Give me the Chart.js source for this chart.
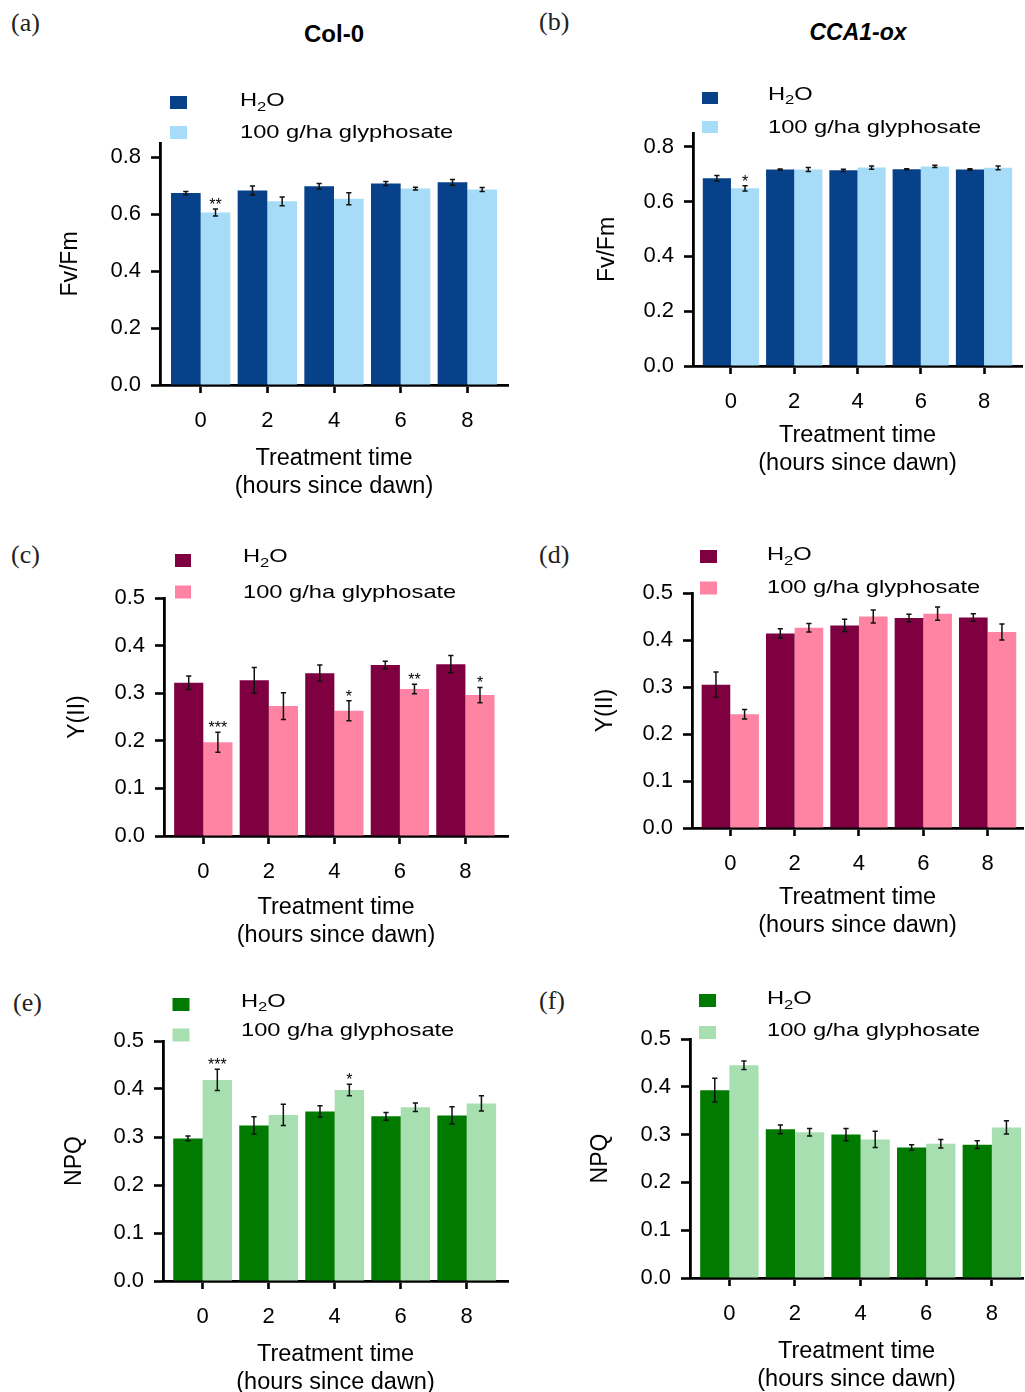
<!DOCTYPE html>
<html>
<head>
<meta charset="utf-8">
<script src="https://cdn.jsdelivr.net/npm/chart.js@4.4.1/dist/chart.umd.min.js"></script>
<style>
  html, body { margin: 0; padding: 0; background: #fff; }
  #page { position: relative; width: 1025px; height: 1392px; overflow: hidden; }
  #page canvas { position: absolute; }
  .tag { position: absolute; font-family: "Liberation Serif", "DejaVu Serif", serif; font-size: 26px; line-height: 1; color: #222; }
  .head { position: absolute; font-family: "Liberation Sans", Arial, sans-serif; font-weight: bold; font-size: 24px; line-height: 1; transform: translateX(-50%); white-space: nowrap; }
</style>
</head>
<body>
<div id="page">
  <div class="tag" style="left:11px; top:10px;">(a)</div>
  <div class="tag" style="left:539px; top:9px;">(b)</div>
  <div class="tag" style="left:11px; top:542px;">(c)</div>
  <div class="tag" style="left:539px; top:542px;">(d)</div>
  <div class="tag" style="left:13px; top:990px;">(e)</div>
  <div class="tag" style="left:539px; top:988px;">(f)</div>
  <div class="head" style="left:334px; top:22px;">Col-0</div>
  <div class="head" style="left:858px; top:21px; font-size:23px;"><i>CCA1-ox</i></div>

  <canvas id="chartA" width="512" height="510" style="left:0; top:0;"></canvas>
  <canvas id="chartB" width="513" height="510" style="left:512px; top:0;"></canvas>
  <canvas id="chartC" width="512" height="452" style="left:0; top:510px;"></canvas>
  <canvas id="chartD" width="513" height="452" style="left:512px; top:510px;"></canvas>
  <canvas id="chartE" width="512" height="430" style="left:0; top:962px;"></canvas>
  <canvas id="chartF" width="513" height="430" style="left:512px; top:962px;"></canvas>
</div>

<script>
// ===== Data =====
const hours = [0, 2, 4, 6, 8];
const seriesNames = ['H2O', '100 g/ha glyphosate'];
const xTitle = ['Treatment time', '(hours since dawn)'];
const fvfmTicks = [0, 0.2, 0.4, 0.6, 0.8];
const lowTicks = [0, 0.1, 0.2, 0.3, 0.4, 0.5];

// (a) Fv/Fm, Col-0
const fvfmColWater = [0.674, 0.683, 0.698, 0.708, 0.712];
const fvfmColWaterErr = [0.006, 0.016, 0.010, 0.007, 0.010];
const fvfmColGly = [0.606, 0.645, 0.654, 0.690, 0.687];
const fvfmColGlyErr = [0.012, 0.015, 0.021, 0.005, 0.007];
const fvfmColSig = ['**', '', '', '', ''];

// (b) Fv/Fm, CCA1-ox
const fvfmOxWater = [0.685, 0.717, 0.714, 0.718, 0.717];
const fvfmOxWaterErr = [0.010, 0.002, 0.004, 0.002, 0.003];
const fvfmOxGly = [0.648, 0.717, 0.724, 0.728, 0.723];
const fvfmOxGlyErr = [0.010, 0.007, 0.006, 0.004, 0.007];
const fvfmOxSig = ['*', '', '', '', ''];

// (c) Y(II), Col-0
const yiiColWater = [0.322, 0.327, 0.342, 0.359, 0.361];
const yiiColWaterErr = [0.014, 0.027, 0.017, 0.008, 0.018];
const yiiColGly = [0.197, 0.273, 0.263, 0.309, 0.296];
const yiiColGlyErr = [0.021, 0.028, 0.021, 0.010, 0.016];
const yiiColSig = ['***', '', '*', '**', '*'];

// (d) Y(II), CCA1-ox
const yiiOxWater = [0.305, 0.414, 0.431, 0.447, 0.448];
const yiiOxWaterErr = [0.027, 0.010, 0.013, 0.008, 0.008];
const yiiOxGly = [0.242, 0.426, 0.450, 0.456, 0.417];
const yiiOxGlyErr = [0.010, 0.009, 0.014, 0.014, 0.017];
const yiiOxSig = ['', '', '', '', ''];

// (e) NPQ, Col-0
const npqColWater = [0.297, 0.324, 0.353, 0.343, 0.345];
const npqColWaterErr = [0.005, 0.018, 0.012, 0.008, 0.018];
const npqColGly = [0.419, 0.346, 0.398, 0.362, 0.370];
const npqColGlyErr = [0.022, 0.022, 0.012, 0.009, 0.016];
const npqColSig = ['***', '', '*', '', ''];

// (f) NPQ, CCA1-ox
const npqOxWater = [0.393, 0.311, 0.300, 0.273, 0.279];
const npqOxWaterErr = [0.025, 0.009, 0.013, 0.006, 0.008];
const npqOxGly = [0.445, 0.305, 0.290, 0.281, 0.315];
const npqOxGlyErr = [0.009, 0.008, 0.017, 0.009, 0.014];
const npqOxSig = ['', '', '', '', ''];

// ===== Styles =====
const FONT = '"Liberation Sans", Arial, sans-serif';
const BLUE = ['#06418a', '#a6dcf8'];
const PINK = ['#7e0040', '#ff84a4'];
const GREEN = ['#007a00', '#a8dfb1'];

// error bars + significance stars
const errorBarPlugin = {
  id: 'errorBars',
  afterDatasetsDraw(chart) {
    const ctx = chart.ctx;
    const y = chart.scales.y;
    chart.data.datasets.forEach((ds, i) => {
      chart.getDatasetMeta(i).data.forEach((bar, j) => {
        const v = ds.data[j].y, e = ds.errors[j];
        const top = y.getPixelForValue(v + e);
        const bot = y.getPixelForValue(v - e);
        ctx.save();
        ctx.strokeStyle = '#111';
        ctx.lineWidth = 1.5;
        ctx.beginPath();
        ctx.moveTo(bar.x, top); ctx.lineTo(bar.x, bot);
        ctx.moveTo(bar.x - 2.6, top); ctx.lineTo(bar.x + 2.6, top);
        ctx.moveTo(bar.x - 2.6, bot); ctx.lineTo(bar.x + 2.6, bot);
        ctx.stroke();
        if (ds.stars && ds.stars[j]) {
          ctx.fillStyle = '#000';
          ctx.font = '16px ' + FONT;
          ctx.textAlign = 'center';
          ctx.textBaseline = 'alphabetic';
          ctx.fillText(ds.stars[j], bar.x, top + 1);
        }
        ctx.restore();
      });
    });
  }
};

// legend drawn by hand: wide gap between swatch and text, subscript in H2O
function drawLabel(ctx, label, x, y) {
  const parts = label.split(/(\d)(?=[A-Z])/);
  const sx = 1.28;
  let cx = x;
  parts.forEach((p, k) => {
    const sub = k % 2 === 1;
    ctx.save();
    ctx.translate(cx, sub ? y + 6 : y);
    ctx.scale(sx, 1);
    ctx.font = (sub ? 13 : 18.5) + 'px ' + FONT;
    ctx.fillText(p, 0, 0);
    cx += ctx.measureText(p).width * sx;
    ctx.restore();
  });
}

const legendPlugin = {
  id: 'handLegend',
  afterDraw(chart) {
    const lg = chart.options.plugins.handLegend;
    if (!lg) return;
    const ctx = chart.ctx;
    ctx.save();
    ctx.textBaseline = 'middle';
    ctx.textAlign = 'left';
    chart.data.datasets.forEach((ds, i) => {
      ctx.fillStyle = ds.backgroundColor;
      ctx.fillRect(lg.boxX, lg.boxTop[i], lg.boxW, lg.boxH);
      ctx.fillStyle = '#000';
      drawLabel(ctx, ds.label, lg.textX, lg.textY[i]);
    });
    ctx.restore();
  }
};

function makePanel(p) {
  const box = p.box;
  const left = p.plot.l - box.x;
  const top = p.plot.t - box.y;
  const right = p.plot.r - box.x;
  const bottom = p.plot.b - box.y;
  const xLh = 23.5 * 1.2;
  const yLh = 23 * 1.2;
  const rel = (v, o) => v - o;

  const tickFont = { family: FONT, size: 22 };
  const axisStyle = (len) => ({
    display: true, drawOnChartArea: false, drawTicks: true, offset: false,
    tickLength: len, tickWidth: 2.6, tickColor: '#000'
  });

  return new Chart(document.getElementById(p.id), {
    type: 'bar',
    data: {
      datasets: [
        {
          label: seriesNames[0],
          data: hours.map((h, i) => ({ x: h, y: p.water[i] })),
          errors: p.waterErr,
          backgroundColor: p.colors[0]
        },
        {
          label: seriesNames[1],
          data: hours.map((h, i) => ({ x: h, y: p.gly[i] })),
          errors: p.glyErr,
          stars: p.sig,
          backgroundColor: p.colors[1]
        }
      ]
    },
    options: {
      responsive: false,
      animation: false,
      events: [],
      layout: { padding: { left: 0, top: top, right: box.w - right, bottom: 0 } },
      datasets: { bar: { categoryPercentage: 0.89, barPercentage: 1.0, borderWidth: 0 } },
      plugins: {
        legend: { display: false },
        tooltip: { enabled: false },
        handLegend: {
          boxX: rel(p.legend.boxX, box.x),
          boxW: p.legend.boxW,
          boxH: p.legend.boxH,
          boxTop: p.legend.boxTop.map(v => rel(v, box.y)),
          textX: rel(p.legend.textX, box.x),
          textY: p.legend.textY.map(v => rel(v, box.y))
        }
      },
      scales: {
        x: {
          type: 'linear',
          offset: false,
          min: p.xMin,
          max: p.xMax,
          z: 1,
          afterFit: s => { s.height = box.h - bottom; },
          afterBuildTicks: s => { s.ticks = hours.map(v => ({ value: v })); },
          ticks: { callback: v => String(v), font: tickFont, color: '#000', padding: 15, maxRotation: 0, autoSkip: false },
          grid: axisStyle(8),
          border: { display: true, color: '#000', width: 2.8 },
          title: {
            display: true, text: xTitle, color: '#000',
            font: { family: FONT, size: 23.5, lineHeight: 1.2 },
            padding: { top: 0, bottom: box.h - xLh / 2 - rel(p.xTitleY, box.y) - 3 }
          }
        },
        y: {
          min: 0,
          max: p.yMax,
          z: 1,
          afterFit: s => { s.width = left; },
          afterBuildTicks: s => { s.ticks = p.yTicks.map(v => ({ value: v })); },
          ticks: { callback: v => v.toFixed(1), font: tickFont, color: '#000', padding: 10 },
          grid: axisStyle(9),
          border: { display: true, color: '#000', width: 2.8 },
          title: {
            display: true, text: p.yTitle, color: '#000',
            font: { family: FONT, size: 23, lineHeight: 1.2 },
            padding: { top: rel(p.yTitleX, box.x) - yLh / 2, bottom: 0 }
          }
        }
      }
    },
    plugins: [errorBarPlugin, legendPlugin]
  });
}

document.addEventListener('DOMContentLoaded', function () {
  const rowA = { y: 0, h: 510 }, rowC = { y: 510, h: 452 }, rowE = { y: 962, h: 430 };
  const colL = { x: 0, w: 512 }, colR = { x: 512, w: 513 };
  const box = (c, r) => ({ x: c.x, w: c.w, y: r.y, h: r.h });

  makePanel({
    id: 'chartA', box: box(colL, rowA),
    plot: { l: 160, r: 508, t: 143, b: 385 }, xMin: -1.22, xMax: 9.22, yMax: 0.85, yTicks: fvfmTicks,
    yTitle: 'Fv/Fm', yTitleX: 71, xTitleY: 484, colors: BLUE,
    water: fvfmColWater, waterErr: fvfmColWaterErr, gly: fvfmColGly, glyErr: fvfmColGlyErr, sig: fvfmColSig,
    legend: { boxX: 170, boxW: 17, boxH: 13, boxTop: [96, 126], textX: 240, textY: [101, 133.3] }
  });
  makePanel({
    id: 'chartB', box: box(colR, rowA),
    plot: { l: 693, r: 1022, t: 133, b: 366 }, xMin: -1.2, xMax: 9.2, yMax: 0.85, yTicks: fvfmTicks,
    yTitle: 'Fv/Fm', yTitleX: 608, xTitleY: 461, colors: BLUE,
    water: fvfmOxWater, waterErr: fvfmOxWaterErr, gly: fvfmOxGly, glyErr: fvfmOxGlyErr, sig: fvfmOxSig,
    legend: { boxX: 702, boxW: 16, boxH: 12, boxTop: [92, 121], textX: 768, textY: [94.5, 127.5] }
  });
  makePanel({
    id: 'chartC', box: box(colL, rowC),
    plot: { l: 164, r: 508, t: 598, b: 836 }, xMin: -1.2, xMax: 9.3, yMax: 0.5, yTicks: lowTicks,
    yTitle: 'Y(II)', yTitleX: 78, xTitleY: 933, colors: PINK,
    water: yiiColWater, waterErr: yiiColWaterErr, gly: yiiColGly, glyErr: yiiColGlyErr, sig: yiiColSig,
    legend: { boxX: 175, boxW: 16, boxH: 13, boxTop: [554, 585.5], textX: 243, textY: [557, 593] }
  });
  makePanel({
    id: 'chartD', box: box(colR, rowC),
    plot: { l: 692, r: 1023, t: 593, b: 828 }, xMin: -1.19, xMax: 9.1, yMax: 0.5, yTicks: lowTicks,
    yTitle: 'Y(II)', yTitleX: 606, xTitleY: 923, colors: PINK,
    water: yiiOxWater, waterErr: yiiOxWaterErr, gly: yiiOxGly, glyErr: yiiOxGlyErr, sig: yiiOxSig,
    legend: { boxX: 700, boxW: 17, boxH: 13, boxTop: [550, 581.5], textX: 767, textY: [555, 588] }
  });
  makePanel({
    id: 'chartE', box: box(colL, rowE),
    plot: { l: 163, r: 508, t: 1041, b: 1281 }, xMin: -1.2, xMax: 9.25, yMax: 0.5, yTicks: lowTicks,
    yTitle: 'NPQ', yTitleX: 75, xTitleY: 1380, colors: GREEN,
    water: npqColWater, waterErr: npqColWaterErr, gly: npqColGly, glyErr: npqColGlyErr, sig: npqColSig,
    legend: { boxX: 172.5, boxW: 17, boxH: 13, boxTop: [998, 1028.5], textX: 241, textY: [1001.5, 1031] }
  });
  makePanel({
    id: 'chartF', box: box(colR, rowE),
    plot: { l: 690, r: 1023, t: 1039, b: 1278 }, xMin: -1.2, xMax: 8.95, yMax: 0.5, yTicks: lowTicks,
    yTitle: 'NPQ', yTitleX: 601, xTitleY: 1377, colors: GREEN,
    water: npqOxWater, waterErr: npqOxWaterErr, gly: npqOxGly, glyErr: npqOxGlyErr, sig: npqOxSig,
    legend: { boxX: 699, boxW: 17, boxH: 13, boxTop: [994, 1026], textX: 767, textY: [999, 1031] }
  });
});
</script>
</body>
</html>
